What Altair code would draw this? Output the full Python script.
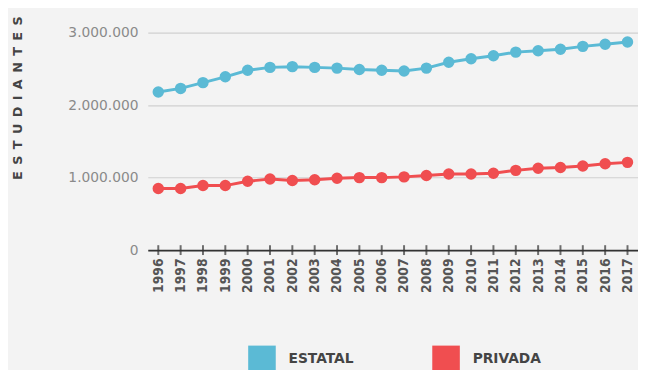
import altair as alt
import pandas as pd

years = [str(y) for y in range(1996, 2018)]
estatal = [2180000, 2230000, 2310000, 2390000, 2480000, 2520000, 2530000, 2520000,
           2510000, 2490000, 2480000, 2470000, 2510000, 2590000, 2640000, 2680000,
           2730000, 2750000, 2770000, 2810000, 2840000, 2870000]
privada = [850000, 850000, 890000, 890000, 950000, 980000, 960000, 970000,
           990000, 1000000, 1000000, 1010000, 1030000, 1050000, 1050000, 1060000,
           1100000, 1130000, 1140000, 1160000, 1190000, 1210000]
series = ["ESTATAL", "PRIVADA"]
colors = ["#5bbad5", "#f04e50"]

rows = []
for y, e, p in zip(years, estatal, privada):
    rows.append({"year": y, "serie": series[0], "value": e})
    rows.append({"year": y, "serie": series[1], "value": p})
df = pd.DataFrame(rows)

xenc = alt.X("year:O", scale=alt.Scale(type="point", padding=0.47),
             axis=alt.Axis(title=None, labelAngle=270, labelAlign="right", labelBaseline="middle",
                           labelFont="DejaVu Sans Condensed", labelFontWeight="bold",
                           labelFontSize=14, labelColor="#555555", labelPadding=8,
                           ticks=False, domainColor="#333333", domainWidth=2, grid=False))
title_txt = "\u2002".join(list("ESTUDIANTES"))
yenc = alt.Y("value:Q", scale=alt.Scale(domain=[0, 3000000]),
             axis=alt.Axis(values=[0, 1000000, 2000000, 3000000],
                           labelExpr="replace(replace(format(datum.value, ','), ',', '.'), ',', '.')",
                           labelFont="DejaVu Sans", labelFontSize=14, labelColor="#8a8a8a",
                           labelPadding=10, domain=False, ticks=False,
                           gridColor="#d0d0d0", gridWidth=1.2,
                           title=title_txt, titleFont="DejaVu Sans", titleFontSize=13,
                           titleFontWeight="bold", titleColor="#444444",
                           titleAngle=270, titleAlign="right", titleBaseline="middle",
                           titleX=-132, titleY=-17))
cscale = alt.Scale(domain=series, range=colors)
legend = alt.Legend(title=None, orient="none", direction="horizontal",
                    legendX=102, legendY=318, symbolType="square",
                    symbolSize=784, symbolStrokeWidth=0, symbolOpacity=1,
                    labelFont="DejaVu Sans", labelFontWeight="bold",
                    labelFontSize=14, labelColor="#444444", labelOffset=13,
                    columnPadding=79, padding=0)

base = alt.Chart(df)
lines = base.mark_line(strokeWidth=3).encode(
    x=xenc, y=yenc, color=alt.Color("serie:N", scale=cscale, sort=series, legend=legend))
pts = base.mark_point(filled=True, size=135, opacity=1).encode(
    x=xenc, y=yenc, color=alt.Color("serie:N", scale=cscale, sort=series, legend=legend))
ticks = base.transform_filter(alt.datum.serie == "ESTATAL").mark_tick(
    orient="vertical", size=10, thickness=2, color="#333333").encode(
    x=alt.X("year:O", scale=alt.Scale(type="point", padding=0.47)), y=alt.datum(0))

chart = alt.layer(lines, pts, ticks).properties(
    width=498, height=221, background="#f3f3f3",
    autosize=alt.AutoSizeParams(type="none"),
    padding={"left": 142, "top": 22, "right": 0, "bottom": 130},
).configure_view(stroke=None)

chart.save("out.html", embed_options={"renderer": "svg", "actions": False})
